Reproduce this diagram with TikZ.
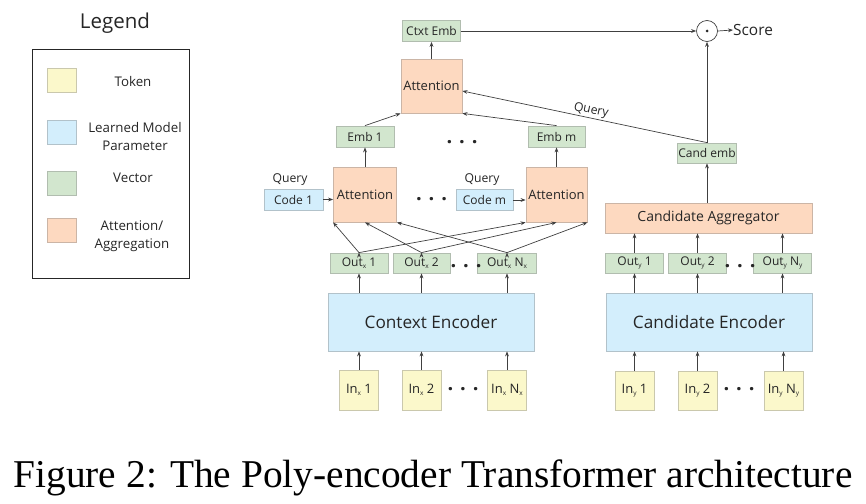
\documentclass[tikz,border=0pt]{standalone}
\usepackage{fontspec}
\setmainfont{Open Sans}
\newfontfamily\capfont{Liberation Serif}
\usetikzlibrary{arrows.meta}

\definecolor{tokfill}{HTML}{FBF8CB}
\definecolor{parfill}{HTML}{D3EEFC}
\definecolor{vecfill}{HTML}{D2E6CE}
\definecolor{attfill}{HTML}{FDD9C0}
\newcommand{\fsz}[1]{\fontsize{#1}{#1}\selectfont}
\newcommand{\lowsub}[1]{\raisebox{-2.5pt}{\fsz{6.5}#1}}

\begin{document}
\begin{tikzpicture}[x=1pt,y=-1pt,>={Stealth[length=5pt,width=3.8pt]},
    conn/.style={->,draw=black!75,line width=0.7pt},
    wh/.style 2 args={minimum width=#1pt,minimum height=#2pt},
    box/.style={rectangle,inner sep=0pt,text=black!85,line width=0.8pt,font=\fsz{12}},
    token/.style={box,fill=tokfill,draw=tokfill!60!gray,font=\fsz{13}},
    learned/.style={box,fill=parfill,draw=parfill!60!gray},
    vector/.style={box,fill=vecfill,draw=vecfill!60!gray},
    attn/.style={box,fill=attfill,draw=attfill!60!gray,font=\fsz{13}},
    legtext/.style={inner sep=0pt,text=black!85,font=\fontsize{13.3}{18}\selectfont},
    qlabel/.style={inner sep=0pt,text=black!85,font=\fsz{12.2}},
    dotrow/.style={inner sep=0pt,text=black!85,font=\fsz{20}\bfseries}]

    \useasboundingbox (0,0) rectangle (866,503);

    % Legend
    \node[font=\fsz{20.5},text=black!85] (legtitle) at (115,23) {Legend};
    \draw[line width=0.9pt,black!85] (32,49) rectangle (189,278);
    \node[token,wh={29}{24}] (legtok) at (61.5,80) {};
    \node[learned,wh={29}{24}] (legpar) at (61.5,132) {};
    \node[vector,wh={29}{24}] (legvec) at (61.5,183.5) {};
    \node[attn,wh={29}{24}] (legatt) at (61.5,230.5) {};
    \node[legtext] (legtoktxt) at (133,82) {Token};
    \node[legtext,align=center] (legpartxt) at (135,137) {Learned Model\\Parameter};
    \node[legtext] (legvectxt) at (133,178) {Vector};
    \node[legtext,align=center] (legatttxt) at (132,236) {Attention/\\Aggregation};

    % Context side
    \node[token,wh={39}{40}] (inx1) at (359,390) {In\lowsub{x} 1};
    \node[token,wh={39}{40}] (inx2) at (421.5,390) {In\lowsub{x} 2};
    \node[token,wh={39}{40}] (inxn) at (507,390) {In\lowsub{x} N\lowsub{x}};
    \node[dotrow] (dots4) at (463,389) {. . .};
    \node[learned,wh={206}{58},font=\fsz{17.2}] (ctxenc) at (431,322) {Context Encoder};
    \node[vector,wh={58}{20}] (outx1) at (359,263) {Out\lowsub{x} 1};
    \node[vector,wh={57}{20}] (outx2) at (421.5,263) {Out\lowsub{x} 2};
    \node[vector,wh={59}{20}] (outxn) at (507,263) {Out\lowsub{x} N\lowsub{x}};
    \node[dotrow] (dots3) at (466,266) {. . .};
    \node[attn,wh={63}{55}] (att1) at (365,194.5) {Attention};
    \node[attn,wh={61}{55}] (attm) at (556.5,194.5) {Attention};
    \node[learned,wh={59}{21}] (code1) at (293.5,199.5) {Code 1};
    \node[learned,wh={57}{21}] (codem) at (484.5,200) {Code m};
    \node[qlabel] (query1) at (290,180) {Query};
    \node[qlabel] (querym) at (482,180) {Query};
    \node[dotrow] (dots2) at (431.5,199) {. . .};
    \node[vector,wh={58}{21}] (emb1) at (365,136.5) {Emb 1};
    \node[vector,wh={57}{21}] (embm) at (556.5,136.5) {Emb m};
    \node[dotrow] (dots1) at (462,142) {. . .};
    \node[attn,wh={61}{54}] (attn) at (431.5,86) {Attention};
    \node[vector,wh={58}{21}] (ctxemb) at (431.5,31) {Ctxt Emb};

    % Candidate side
    \node[token,wh={39}{39}] (iny1) at (634.5,390.5) {In\lowsub{y} 1};
    \node[token,wh={39}{39}] (iny2) at (697.5,390.5) {In\lowsub{y} 2};
    \node[token,wh={39}{39}] (inyn) at (783.5,390.5) {In\lowsub{y} N\lowsub{y}};
    \node[dotrow] (dots5) at (739,389) {. . .};
    \node[learned,wh={206}{58},font=\fsz{17.2}] (candenc) at (709,322) {Candidate Encoder};
    \node[vector,wh={58}{20}] (outy1) at (634.5,263) {Out\lowsub{y} 1};
    \node[vector,wh={58}{20}] (outy2) at (697.5,263) {Out\lowsub{y} 2};
    \node[vector,wh={58}{20}] (outyn) at (782.5,263) {Out\lowsub{y} N\lowsub{y}};
    \node[dotrow] (dots6) at (740,266) {. . .};
    \node[attn,wh={207}{30},font=\fsz{14}] (candagg) at (708.5,218) {Candidate Aggregator};
    \node[vector,wh={59}{20}] (candemb) at (707,153) {Cand emb};
    \node[circle,draw=black!75,line width=0.7pt,minimum size=21pt,inner sep=0pt] (prod) at (707,31) {};
    \fill[black!85] (prod) circle (1.5);
    \node[anchor=west,inner sep=0pt,text=black!85,font=\fsz{15.4}] (score) at (733,30) {Score};

    % Draw edges
    \foreach \n in {inx1,inx2,inxn}
        \draw[conn] (\n) -- (ctxenc.south -| \n);
    \foreach \n in {outx1,outx2,outxn}
        \draw[conn] (ctxenc.north -| \n) -- (\n);
    \foreach \n in {iny1,iny2,inyn}
        \draw[conn] (\n) -- (candenc.south -| \n);
    \foreach \n in {outy1,outy2,outyn}
        \draw[conn] (candenc.north -| \n) -- (\n);
    \foreach \n in {outy1,outy2,outyn}
        \draw[conn] (\n) -- (candagg.south -| \n);
    \foreach \src/\anc in {outx1/south west,outx2/south,outxn/south east}
        \draw[conn] (\src.north) edge (att1.\anc) edge (attm.\anc);
    \draw[conn] (code1) -- (code1 -| att1.west);
    \draw[conn] (codem) -- (codem -| attm.west);
    \draw[conn] (att1) -- (emb1);
    \draw[conn] (attm) -- (embm);
    \draw[conn] (emb1.north) -- (attn.south west);
    \draw[conn] (embm.north) -- (attn.south east);
    \draw[conn] (attn) -- (ctxemb);
    \draw[conn] (candagg.north -| candemb) -- (candemb);
    \draw[conn,<-] ([yshift=-5pt]attn.east) -- (candemb.north)
        node[pos=0.52,above=1pt,sloped,qlabel] {Query};
    \draw[conn] (candemb) -- (prod);
    \draw[conn] (ctxemb) -- (prod);
    \draw[conn] (prod.east) -- (score.west);

    % Caption
    \node[anchor=base,inner sep=0pt,font=\capfont\fontsize{39.4}{41}\selectfont] (caption) at (433,487)
        {Figure 2: The Poly-encoder Transformer architecture};
\end{tikzpicture}
\end{document}
